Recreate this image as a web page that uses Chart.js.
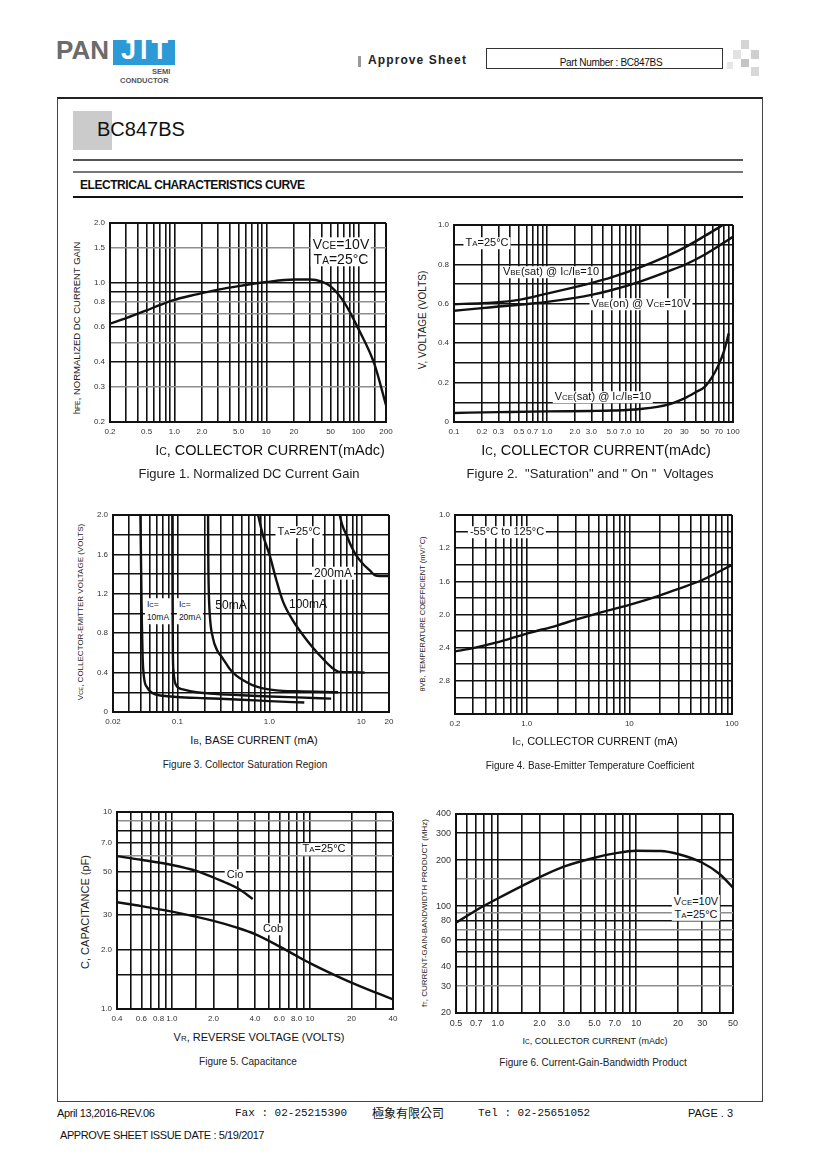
<!DOCTYPE html>
<html>
<head>
<meta charset="utf-8">
<script src="https://cdn.jsdelivr.net/npm/chart.js@4.4.1/dist/chart.umd.min.js"></script>
<style>
  body { margin: 0; background: #fff; font-family: "Liberation Sans", Arial, sans-serif; color: #111; }
  #page { position: relative; width: 820px; height: 1160px; overflow: hidden; }
  .a { position: absolute; white-space: nowrap; }
  .t { position: absolute; white-space: nowrap; transform: translate(-50%, -50%); z-index: 3; }
  .r { position: absolute; white-space: nowrap; transform: translate(-50%, -50%) rotate(-90deg); }
  .note { background: #fff; padding: 0 2px; line-height: 1.05; z-index: 3; }
  .s { font-size: 0.72em; }
  canvas { position: absolute; z-index: 1; }
  .hl { position: absolute; left: 73px; width: 670px; }
</style>
</head>
<body>
<div id="page">
  <!-- header -->
  <div class="a" style="left:56px;top:35px;font-size:26px;font-weight:bold;color:#6b6b6b;letter-spacing:0px;">PAN</div>
  <div class="a" style="left:113px;top:40px;width:62px;height:25px;background:#2b9ad6;"></div>
  <div class="a" style="left:121px;top:35px;font-size:27px;font-weight:bold;color:#fff;letter-spacing:4px;">JÏT</div>
  <div class="a" style="left:152px;top:67px;font-size:7.5px;font-weight:bold;color:#555;">SEMI</div>
  <div class="a" style="left:120px;top:76px;font-size:7.5px;font-weight:bold;color:#555;">CONDUCTOR</div>

  <div class="a" style="left:358px;top:56px;width:3px;height:11px;background:#999;"></div>
  <div class="a" style="left:368px;top:53px;font-size:12px;font-weight:bold;letter-spacing:1.1px;color:#222;">Approve Sheet</div>
  <div class="a" style="left:486px;top:48px;width:235px;height:19px;border:1px solid #333;"></div>
  <div class="t" style="left:611px;top:62px;font-size:10px;letter-spacing:-0.3px;">Part Number : BC847BS</div>
  <div class="a" style="left:741px;top:40px;width:8px;height:9px;background:#d4d4d4;"></div>
  <div class="a" style="left:733px;top:50px;width:8px;height:9px;background:#e2e2e2;"></div>
  <div class="a" style="left:751px;top:50px;width:8px;height:9px;background:#cfcfcf;"></div>
  <div class="a" style="left:741px;top:59px;width:8px;height:8px;background:#c4c4c4;"></div>
  <div class="a" style="left:727px;top:62px;width:6px;height:7px;background:#e6e6e6;"></div>
  <div class="a" style="left:751px;top:67px;width:8px;height:9px;background:#d8d8d8;"></div>

  <!-- frame -->
  <div class="a" style="left:57px;top:97px;width:704px;height:1002px;border:1px solid #444;border-top:2px solid #222;"></div>
  <div class="a" style="left:73px;top:111px;width:39px;height:39px;background:#cbcbcb;"></div>
  <div class="a" style="left:97px;top:118px;font-size:20px;color:#111;">BC847BS</div>
  <div class="hl" style="top:159px;height:2px;background:#555;"></div>
  <div class="hl" style="top:171px;height:2px;background:#777;"></div>
  <div class="a" style="left:80px;top:178px;font-size:12px;font-weight:bold;letter-spacing:-0.45px;">ELECTRICAL CHARACTERISTICS CURVE</div>
  <div class="hl" style="top:196px;height:1.5px;background:#111;"></div>

  <canvas id="c1"></canvas>
  <canvas id="c2"></canvas>
  <canvas id="c3"></canvas>
  <canvas id="c4"></canvas>
  <canvas id="c5"></canvas>
  <canvas id="c6"></canvas>

  <!-- figure 1 texts -->
  <div class="r" style="left:76px;top:328px;font-size:9.5px;color:#222;">h<span class="s">FE</span>, NORMALIZED DC CURRENT GAIN</div>
  <div class="t" style="left:270px;top:450px;font-size:14.5px;">I<span class="s">C</span>, COLLECTOR CURRENT(mAdc)</div>
  <div class="t" style="left:249px;top:473px;font-size:13px;color:#222;">Figure 1. Normalized DC Current Gain</div>
  <div class="t note" style="left:341px;top:252px;font-size:14px;text-align:center;">V<span class="s">CE</span>=10V<br>T<span class="s">A</span>=25°C</div>

  <!-- figure 2 texts -->
  <div class="r" style="left:422px;top:320px;font-size:10px;color:#222;">V, VOLTAGE (VOLTS)</div>
  <div class="t" style="left:596px;top:450px;font-size:14.5px;">I<span class="s">C</span>, COLLECTOR CURRENT(mAdc)</div>
  <div class="t" style="left:590px;top:473px;font-size:13px;color:#222;">Figure 2.&nbsp; "Saturation" and " On "&nbsp; Voltages</div>
  <div class="t note" style="left:487px;top:243px;font-size:11px;">T<span class="s">A</span>=25°C</div>
  <div class="t note" style="left:551px;top:272px;font-size:11px;">V<span class="s">BE</span>(sat) @ I<span class="s">C</span>/I<span class="s">B</span>=10</div>
  <div class="t note" style="left:641px;top:304px;font-size:11px;">V<span class="s">BE</span>(on) @ V<span class="s">CE</span>=10V</div>
  <div class="t note" style="left:603px;top:397px;font-size:11px;">V<span class="s">CE</span>(sat) @ I<span class="s">C</span>/I<span class="s">B</span>=10</div>

  <!-- figure 3 texts -->
  <div class="r" style="left:80px;top:612px;font-size:8px;color:#222;">V<span class="s">CE</span>, COLLECTOR-EMITTER VOLTAGE (VOLTS)</div>
  <div class="t" style="left:254px;top:740px;font-size:11px;">I<span class="s">B</span>, BASE CURRENT (mA)</div>
  <div class="t" style="left:245px;top:764px;font-size:10px;color:#222;">Figure 3. Collector Saturation Region</div>
  <div class="t note" style="left:299px;top:532px;font-size:11px;">T<span class="s">A</span>=25°C</div>
  <div class="t note" style="left:333px;top:573px;font-size:12px;">200mA</div>
  <div class="t" style="left:308px;top:604px;font-size:12px;">100mA</div>
  <div class="t" style="left:231px;top:605px;font-size:12px;">50mA</div>
  <div class="t note" style="left:158px;top:611px;font-size:8.5px;text-align:left;line-height:1.5;">I<span class="s">C</span>=<br>10mA</div>
  <div class="t note" style="left:190px;top:611px;font-size:8.5px;text-align:left;line-height:1.5;">I<span class="s">C</span>=<br>20mA</div>

  <!-- figure 4 texts -->
  <div class="r" style="left:422px;top:614px;font-size:7.5px;color:#222;">θVB, TEMPERATURE COEFFICIENT (mV/°C)</div>
  <div class="t" style="left:595px;top:741px;font-size:11px;">I<span class="s">C</span>, COLLECTOR CURRENT (mA)</div>
  <div class="t" style="left:590px;top:765px;font-size:10px;color:#222;">Figure 4. Base-Emitter Temperature Coefficient</div>
  <div class="t note" style="left:507px;top:532px;font-size:11px;">-55°C to 125°C</div>

  <!-- figure 5 texts -->
  <div class="r" style="left:85px;top:912px;font-size:11px;color:#222;">C, CAPACITANCE (pF)</div>
  <div class="t" style="left:259px;top:1037px;font-size:11px;">V<span class="s">R</span>, REVERSE VOLTAGE (VOLTS)</div>
  <div class="t" style="left:248px;top:1061px;font-size:10px;color:#222;">Figure 5. Capacitance</div>
  <div class="t note" style="left:324px;top:849px;font-size:11px;">T<span class="s">A</span>=25°C</div>
  <div class="t note" style="left:235px;top:875px;font-size:11px;">Cio</div>
  <div class="t note" style="left:273px;top:929px;font-size:11px;">Cob</div>

  <!-- figure 6 texts -->
  <div class="r" style="left:424px;top:913px;font-size:8px;color:#222;">f<span class="s">T</span>, CURRENT-GAIN-BANDWIDTH PRODUCT (MHz)</div>
  <div class="t" style="left:595px;top:1041px;font-size:9px;">I<span class="s">C</span>, COLLECTOR CURRENT (mAdc)</div>
  <div class="t" style="left:593px;top:1062px;font-size:10px;color:#222;">Figure 6. Current-Gain-Bandwidth Product</div>
  <div class="t note" style="left:696px;top:908px;font-size:11px;text-align:center;line-height:1.2;">V<span class="s">CE</span>=10V<br>T<span class="s">A</span>=25°C</div>

  <!-- footer -->
  <div class="a" style="left:57px;top:1107px;font-size:11px;letter-spacing:-0.4px;">April 13,2016-REV.06</div>
  <div class="a" style="left:235px;top:1107px;font-size:11px;font-family:'Liberation Mono',monospace;">Fax : 02-25215390</div>
  <div class="a" style="left:372px;top:1106px;font-size:12px;font-family:'Noto Sans CJK TC',sans-serif;line-height:1.1;">極象有限公司</div>
  <div class="a" style="left:478px;top:1107px;font-size:11px;font-family:'Liberation Mono',monospace;">Tel : 02-25651052</div>
  <div class="a" style="left:688px;top:1107px;font-size:11px;">PAGE . 3</div>
  <div class="a" style="left:60px;top:1129px;font-size:11px;letter-spacing:-0.4px;">APPROVE SHEET ISSUE DATE : 5/19/2017</div>
</div>

<script>
// ---- Figure 1: normalized DC current gain ----
const fig1Ic = [0.2, 0.3, 0.5, 0.7, 1.0, 1.5, 2.0, 3.0, 5.0, 10, 20, 30, 40, 50, 70, 100, 150, 200];
const fig1Gain = [0.624, 0.665, 0.728, 0.775, 0.822, 0.862, 0.888, 0.925, 0.964, 1.01, 1.04, 1.04, 1.015, 0.96, 0.80, 0.589, 0.39, 0.243];
const fig1XGrid = [0.2, 0.3, 0.4, 0.5, 0.6, 0.7, 0.8, 0.9, 1, 2, 3, 4, 5, 6, 7, 8, 9, 10, 20, 30, 40, 50, 60, 70, 80, 90, 100, 150, 200];
const fig1XTicks = [0.2, 0.5, 1, 2, 5, 10, 20, 50, 100, 200];
const fig1XLabels = ['0.2', '0.5', '1.0', '2.0', '5.0', '10', '20', '50', '100', '200'];
const fig1YGrid = [0.2, 0.3, 0.4, 0.5, 0.6, 0.7, 0.8, 0.9, 1.0, 1.5, 2.0];
const fig1YGray = [0.3, 0.5, 0.7, 0.8, 1.5];
const fig1YTicks = [0.2, 0.3, 0.4, 0.6, 0.8, 1.0, 1.5, 2.0];
const fig1YLabels = ['0.2', '0.3', '0.4', '0.6', '0.8', '1.0', '1.5', '2.0'];

// ---- Figure 2: saturation and on voltages ----
const fig2IcSat = [0.1, 0.2, 0.3, 0.5, 1, 2, 3, 5, 10, 20, 30, 50, 78];
const fig2VbeSat = [0.598, 0.603, 0.608, 0.62, 0.652, 0.685, 0.705, 0.735, 0.785, 0.845, 0.885, 0.945, 1.0];
const fig2IcOn = [0.1, 0.2, 0.3, 0.5, 1, 2, 3, 5, 10, 20, 30, 50, 100];
const fig2VbeOn = [0.565, 0.578, 0.586, 0.595, 0.61, 0.63, 0.645, 0.67, 0.713, 0.765, 0.797, 0.85, 0.94];
const fig2IcCe = [0.1, 0.3, 1, 3, 5, 10, 20, 30, 40, 50, 60, 70, 80, 90];
const fig2VceSat = [0.046, 0.05, 0.054, 0.056, 0.058, 0.066, 0.088, 0.12, 0.152, 0.18, 0.23, 0.29, 0.36, 0.45];
const fig2XGrid = [0.1, 0.2, 0.3, 0.4, 0.5, 0.6, 0.7, 0.8, 0.9, 1, 2, 3, 4, 5, 6, 7, 8, 9, 10, 20, 30, 40, 50, 60, 70, 80, 90, 100];
const fig2XTicks = [0.1, 0.2, 0.3, 0.5, 0.7, 1, 2, 3, 5, 7, 10, 20, 30, 50, 70, 100];
const fig2XLabels = ['0.1', '0.2', '0.3', '0.5', '0.7', '1.0', '2.0', '3.0', '5.0', '7.0', '10', '20', '30', '50', '70', '100'];
const fig2YGrid = [0, 0.1, 0.2, 0.3, 0.4, 0.5, 0.6, 0.7, 0.8, 0.9, 1.0];
const fig2YTicks = [0, 0.2, 0.4, 0.6, 0.8, 1.0];
const fig2YLabels = ['0', '0.2', '0.4', '0.6', '0.8', '1.0'];

// ---- Figure 3: collector saturation region ----
const fig3Ib10 = [0.0397, 0.0405, 0.0412, 0.042, 0.0435, 0.047, 0.054, 0.07, 0.098, 0.2, 0.5, 1.0, 2.4];
const fig3Vce10 = [2.0, 1.4, 0.9, 0.55, 0.35, 0.25, 0.19, 0.165, 0.153, 0.14, 0.125, 0.11, 0.096];
const fig3Ib20 = [0.0882, 0.0885, 0.089, 0.0895, 0.091, 0.0976, 0.115, 0.161, 0.226, 0.5, 1.0, 2.0, 4.7];
const fig3Vce20 = [2.0, 1.5, 1.0, 0.6, 0.41, 0.27, 0.23, 0.2, 0.187, 0.17, 0.158, 0.148, 0.136];
const fig3Ib50 = [0.216, 0.217, 0.219, 0.225, 0.244, 0.27, 0.314, 0.37, 0.438, 0.55, 0.666, 0.85, 1.19, 2.0, 5.6];
const fig3Vce50 = [2.0, 1.6, 1.3, 1.0, 0.75, 0.63, 0.54, 0.44, 0.37, 0.31, 0.27, 0.24, 0.22, 0.21, 0.2];
const fig3Ib100 = [0.755, 0.85, 1.01, 1.2, 1.41, 1.8, 2.33, 3.0, 3.8, 4.8, 5.8, 8, 10.9];
const fig3Vce100 = [2.0, 1.8, 1.59, 1.33, 1.12, 0.93, 0.78, 0.65, 0.543, 0.45, 0.407, 0.405, 0.40];
const fig3Ib200 = [5.82, 6.2, 6.9, 7.8, 8.8, 10.5, 12.3, 14, 16, 20];
const fig3Vce200 = [2.0, 1.9, 1.797, 1.68, 1.59, 1.5, 1.44, 1.39, 1.38, 1.38];
const fig3XGrid = [0.02, 0.03, 0.04, 0.05, 0.06, 0.07, 0.08, 0.09, 0.1, 0.2, 0.3, 0.4, 0.5, 0.6, 0.7, 0.8, 0.9, 1, 2, 3, 4, 5, 6, 7, 8, 9, 10, 20];
const fig3XTicks = [0.02, 0.1, 1, 10, 20];
const fig3XLabels = ['0.02', '0.1', '1.0', '10', '20'];
const fig3YGrid = [0, 0.2, 0.4, 0.6, 0.8, 1.0, 1.2, 1.4, 1.6, 1.8, 2.0];
const fig3YTicks = [0, 0.4, 0.8, 1.2, 1.6, 2.0];
const fig3YLabels = ['0', '0.4', '0.8', '1.2', '1.6', '2.0'];

// ---- Figure 4: base-emitter temperature coefficient ----
const fig4Ic = [0.2, 0.3, 0.5, 1, 2, 3, 5, 10, 20, 30, 50, 100];
const fig4Coef = [2.445, 2.405, 2.34, 2.23, 2.13, 2.062, 1.984, 1.884, 1.768, 1.69, 1.59, 1.402];
const fig4XGrid = [0.2, 0.3, 0.4, 0.5, 0.6, 0.7, 0.8, 0.9, 1, 2, 3, 4, 5, 6, 7, 8, 9, 10, 20, 30, 40, 50, 60, 70, 80, 90, 100];
const fig4XTicks = [0.2, 1, 10, 100];
const fig4XLabels = ['0.2', '1.0', '10', '100'];
const fig4YGrid = [0.8, 1.0, 1.2, 1.4, 1.6, 1.8, 2.0, 2.2, 2.4, 2.6, 2.8, 3.0, 3.2];
const fig4YTicks = [0.8, 1.2, 1.6, 2.0, 2.4, 2.8];
const fig4YLabels = ['1.0', '1.2', '1.6', '2.0', '2.4', '2.8'];

// ---- Figure 5: capacitance ----
const fig5VrCio = [0.4, 0.6, 1.0, 1.5, 2, 3, 3.85];
const fig5Cio = [5.97, 5.72, 5.38, 5.02, 4.65, 4.1, 3.62];
const fig5VrCob = [0.4, 0.6, 1, 2, 3, 4, 6, 8, 10, 15, 20, 30, 40];
const fig5Cob = [3.48, 3.33, 3.12, 2.8, 2.58, 2.4, 2.08, 1.86, 1.71, 1.49, 1.36, 1.21, 1.12];
const fig5XGrid = [0.4, 0.5, 0.6, 0.7, 0.8, 0.9, 1, 1.5, 2, 3, 4, 5, 6, 7, 8, 9, 10, 20, 30, 40];
const fig5XTicks = [0.4, 0.6, 0.8, 1, 2, 4, 6, 8, 10, 20, 40];
const fig5XLabels = ['0.4', '0.6', '0.8', '1.0', '2.0', '4.0', '6.0', '8.0', '10', '20', '40'];
const fig5YGrid = [1, 1.5, 2, 3, 4, 5, 6, 7, 8, 9, 10];
const fig5YGray = [6, 9];
const fig5YTicks = [1, 2, 3, 5, 7, 10];
const fig5YLabels = ['1.0', '2.0', '30', '50', '7.0', '10'];

// ---- Figure 6: current-gain-bandwidth product ----
const fig6Ic = [0.5, 0.7, 1, 2, 3, 5, 7, 10, 15, 20, 30, 40, 50];
const fig6Ft = [77.7, 94, 112, 154, 181, 207, 221, 230, 229, 219, 192, 162, 132];
const fig6XGrid = [0.5, 0.6, 0.7, 0.8, 0.9, 1, 1.5, 2, 3, 4, 5, 6, 7, 8, 9, 10, 20, 30, 40, 50];
const fig6XTicks = [0.5, 0.7, 1, 2, 3, 5, 7, 10, 20, 30, 50];
const fig6XLabels = ['0.5', '0.7', '1.0', '2.0', '3.0', '5.0', '7.0', '10', '20', '30', '50'];
const fig6YGrid = [20, 30, 40, 50, 60, 70, 80, 90, 100, 150, 200, 300, 400];
const fig6YGray = [30, 70, 90, 150];
const fig6YTicks = [20, 30, 40, 60, 80, 100, 200, 300, 400];
const fig6YLabels = ['20', '30', '40', '60', '80', '100', '200', '300', '400'];

const PAD_L = 44, PAD_T = 8, PAD_R = 16, PAD_B = 22;

function near(a, b) {
    return Math.abs(a - b) < 1e-9 * Math.max(1, Math.abs(b));
}

function axis(isX, type, min, max, grid, ticks, labels, gray, fontSize, reverse) {
    gray = gray || [];
    return {
        type: type,
        min: min,
        max: max,
        reverse: !!reverse,
        afterBuildTicks: (s) => { s.ticks = grid.map(v => ({ value: v })); },
        afterFit: (s) => {
            if (isX) s.height = PAD_B; else s.width = PAD_L;
            s.paddingLeft = 0; s.paddingRight = 0; s.paddingTop = 0; s.paddingBottom = 0;
        },
        ticks: {
            autoSkip: false,
            maxRotation: 0,
            minRotation: 0,
            padding: 5,
            color: '#333',
            font: { family: 'Liberation Sans', size: fontSize },
            callback: (v) => {
                const i = ticks.findIndex(t => near(v, t));
                return i >= 0 ? labels[i] : '';
            }
        },
        grid: {
            drawTicks: false,
            color: (c) => (c.tick && gray.some(g => near(c.tick.value, g))) ? '#8e8e8e' : '#111',
            lineWidth: (c) => (c.index === 0 || c.index === grid.length - 1) ? 2 : 1.6
        },
        border: { display: true, color: '#111', width: 2 }
    };
}

function series(xs, ys) {
    return {
        data: xs.map((x, i) => ({ x: x, y: ys[i] })),
        showLine: true,
        borderColor: '#111',
        borderWidth: 2.4,
        pointRadius: 0,
        cubicInterpolationMode: 'monotone',
        fill: false
    };
}

function buildChart(id, box, xScale, yScale, datasets) {
    const [L, T, R, B] = box;
    const cv = document.getElementById(id);
    const w = R - L + PAD_L + PAD_R, h = B - T + PAD_T + PAD_B;
    cv.width = w; cv.height = h;
    cv.style.left = (L - PAD_L) + 'px';
    cv.style.top = (T - PAD_T) + 'px';
    cv.style.width = w + 'px';
    cv.style.height = h + 'px';
    return new Chart(cv, {
        type: 'scatter',
        data: { datasets: datasets },
        options: {
            responsive: false,
            animation: false,
            layout: { padding: { top: PAD_T, right: PAD_R, left: 0, bottom: 0 } },
            plugins: { legend: { display: false }, tooltip: { enabled: false } },
            scales: { x: xScale, y: yScale }
        }
    });
}

buildChart('c1', [110, 223, 386, 422],
    axis(true, 'logarithmic', 0.2, 200, fig1XGrid, fig1XTicks, fig1XLabels, [], 8),
    axis(false, 'logarithmic', 0.2, 2.0, fig1YGrid, fig1YTicks, fig1YLabels, fig1YGray, 8),
    [series(fig1Ic, fig1Gain)]);

buildChart('c2', [454, 225, 733, 422],
    axis(true, 'logarithmic', 0.1, 100, fig2XGrid, fig2XTicks, fig2XLabels, [], 8),
    axis(false, 'linear', 0, 1.0, fig2YGrid, fig2YTicks, fig2YLabels, [], 8),
    [series(fig2IcSat, fig2VbeSat), series(fig2IcOn, fig2VbeOn), series(fig2IcCe, fig2VceSat)]);

buildChart('c3', [113, 515, 389, 712],
    axis(true, 'logarithmic', 0.02, 20, fig3XGrid, fig3XTicks, fig3XLabels, [], 8),
    axis(false, 'linear', 0, 2.0, fig3YGrid, fig3YTicks, fig3YLabels, [], 8),
    [series(fig3Ib10, fig3Vce10), series(fig3Ib20, fig3Vce20), series(fig3Ib50, fig3Vce50),
     series(fig3Ib100, fig3Vce100), series(fig3Ib200, fig3Vce200)]);

buildChart('c4', [455, 515, 732, 714],
    axis(true, 'logarithmic', 0.2, 100, fig4XGrid, fig4XTicks, fig4XLabels, [], 8),
    axis(false, 'linear', 0.8, 3.2, fig4YGrid, fig4YTicks, fig4YLabels, [], 8, true),
    [series(fig4Ic, fig4Coef)]);

buildChart('c5', [117, 812, 393, 1009],
    axis(true, 'logarithmic', 0.4, 40, fig5XGrid, fig5XTicks, fig5XLabels, [], 8),
    axis(false, 'logarithmic', 1, 10, fig5YGrid, fig5YTicks, fig5YLabels, fig5YGray, 8),
    [series(fig5VrCio, fig5Cio), series(fig5VrCob, fig5Cob)]);

buildChart('c6', [456, 814, 733, 1013],
    axis(true, 'logarithmic', 0.5, 50, fig6XGrid, fig6XTicks, fig6XLabels, [], 9),
    axis(false, 'logarithmic', 20, 400, fig6YGrid, fig6YTicks, fig6YLabels, fig6YGray, 9),
    [series(fig6Ic, fig6Ft)]);
</script>
</body>
</html>
